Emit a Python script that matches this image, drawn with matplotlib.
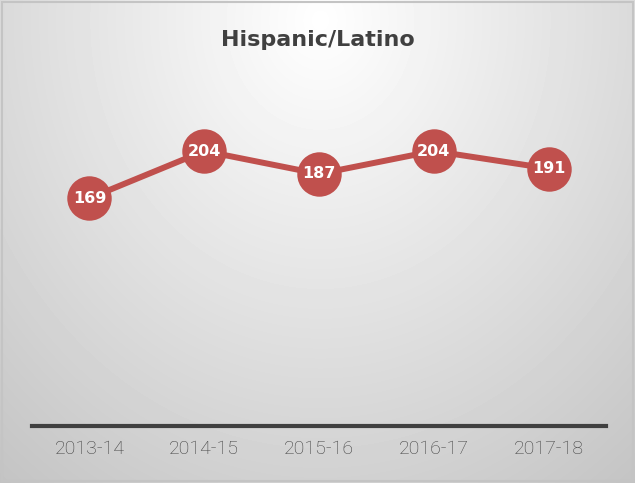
import numpy as np
import matplotlib.pyplot as plt
from matplotlib.patches import Rectangle

years = ['2013-14', '2014-15', '2015-16', '2016-17', '2017-18']
counts = [169, 204, 187, 204, 191]

W, H = 635, 483
fig = plt.figure(figsize=(W / 100, H / 100), dpi=100)

# radial gradient background
bg = fig.add_axes([0, 0, 1, 1])
yy, xx = np.mgrid[0:H, 0:W]
r = np.sqrt(((xx - 320) / 480.0) ** 2 + ((yy - 20) / 560.0) ** 2)
shade = 1.0 - 0.22 * np.clip(r, 0, 1.2)
bg.imshow(shade, cmap='gray', vmin=0, vmax=1, aspect='auto',
          extent=[0, W, H, 0], interpolation='bilinear')
bg.add_patch(Rectangle((1.5, 1.5), W - 4, H - 4, fill=False,
                       edgecolor='#c4c4c4', linewidth=1.5))
bg.set_xlim(0, W)
bg.set_ylim(H, 0)
bg.axis('off')

ax = fig.add_axes([32 / W, 1 - 426 / H, (606 - 32) / W, (426 - 89) / H])
ax.patch.set_alpha(0)
x = np.arange(len(years))
ax.plot(x, counts, color='#C0504D', linewidth=4.3, marker='o',
        markersize=32, markeredgewidth=0, zorder=3)
for xi, v in zip(x, counts):
    ax.text(xi, v, str(v), ha='center', va='center', color='white',
            fontsize=11.5, fontweight='bold', family='DejaVu Sans', zorder=4)

ax.set_xlim(-0.5, 4.5)
ax.set_ylim(0, 250)
ax.set_yticks([])
ax.set_xticks(x)
ax.set_xticklabels(years, fontsize=14, color='#404040', family='Roboto',
                   fontweight='light')
ax.tick_params(axis='x', length=0, pad=10)
for s in ['top', 'left', 'right']:
    ax.spines[s].set_visible(False)
ax.spines['bottom'].set_color('#404040')
ax.spines['bottom'].set_linewidth(3)

fig.text(318 / W, 1 - 40 / H, 'Hispanic/Latino', ha='center', va='center',
         fontsize=16, fontweight='bold', color='#404040', family='DejaVu Sans')

fig.savefig('out.png', dpi=100)
